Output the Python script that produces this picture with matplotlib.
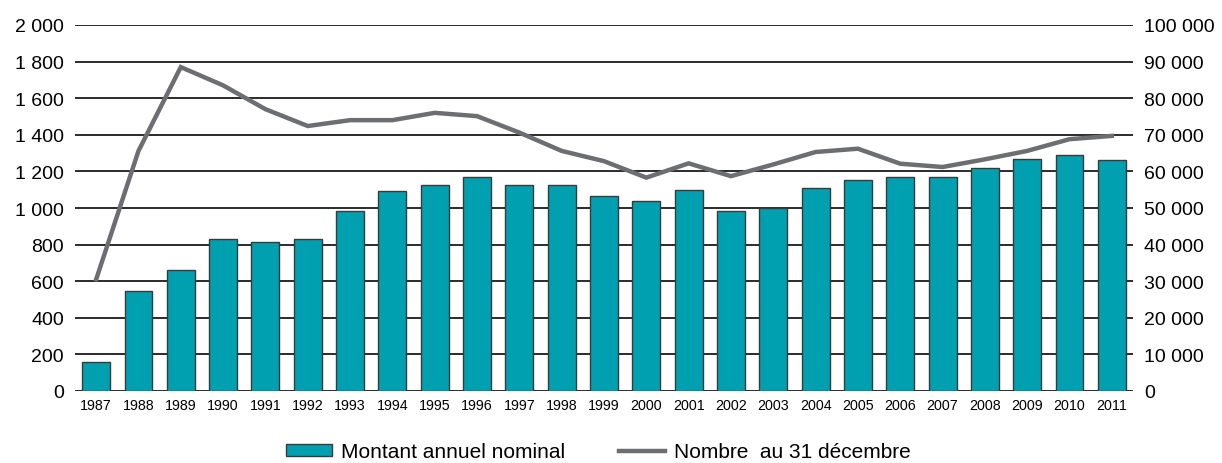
import matplotlib
matplotlib.use("Agg")
import matplotlib.pyplot as plt
from matplotlib.ticker import FuncFormatter

years = [str(y) for y in range(1987, 2012)]
montant = [160, 545, 661, 833, 814, 833, 986, 1091, 1128, 1171, 1128, 1128, 1066,
           1038, 1100, 986, 1000, 1109, 1155, 1171, 1171, 1217, 1270, 1290, 1262]
nombre = [30500, 65600, 88500, 83500, 77000, 72400, 74000, 74000, 76000, 75100, 70600,
          65600, 62800, 58300, 62200, 58700, 61900, 65300, 66200, 62100, 61200, 63300,
          65600, 68800, 69700]
left_ticks = list(range(0, 2001, 200))
right_ticks = list(range(0, 100001, 10000))

plt.rcParams['font.family'] = ['Liberation Sans', 'DejaVu Sans']

fig = plt.figure(figsize=(12.22, 4.64), dpi=100)
ax = fig.add_axes([75/1222, 1-392/464, (1133-75)/1222, (392-26)/464])
ax2 = ax.twinx()

x = list(range(len(years)))
ax.set_zorder(1)
ax.patch.set_visible(False)
for t in left_ticks:
    ax.axhline(t, color='#1a1a1a', lw=1.3, zorder=0)
bars = ax.bar(x, montant, width=0.66, color='#00A0B0', edgecolor='#3a3a3a', lw=1.0,
              zorder=2, label='Montant annuel nominal')
ax.set_ylim(0, 2000)
ax.set_xlim(-0.5, len(years)-0.5)
ax.set_yticks(left_ticks)
fmt = FuncFormatter(lambda v, p: f"{int(v):,}".replace(",", " "))
ax.yaxis.set_major_formatter(fmt)
ax.set_xticks(x)
ax.set_xticklabels(years, fontsize=10.3)
ax.tick_params(axis='y', length=0, labelsize=14, pad=8)
ax.tick_params(axis='x', length=0, pad=5)

ax2.set_ylim(0, 100000)
ax2.set_yticks(right_ticks)
ax2.yaxis.set_major_formatter(fmt)
ax2.tick_params(axis='y', length=0, labelsize=14, pad=8)
line, = ax.plot(x, [v/50 for v in nombre], color='#6D6E71', lw=3.2, zorder=3,
                solid_joinstyle='miter', label='Nombre  au 31 décembre')

for a in (ax, ax2):
    for s in a.spines.values():
        s.set_visible(False)

fig.legend(handles=[bars, line], labels=['Montant annuel nominal', 'Nombre  au 31 décembre'],
           loc='center', bbox_to_anchor=(598.5/1222, 1-453/464), ncol=2, frameon=False,
           fontsize=15, handlelength=2.2, handleheight=0.5, columnspacing=2.6,
           handletextpad=0.45)

fig.savefig('out.png', dpi=100)
